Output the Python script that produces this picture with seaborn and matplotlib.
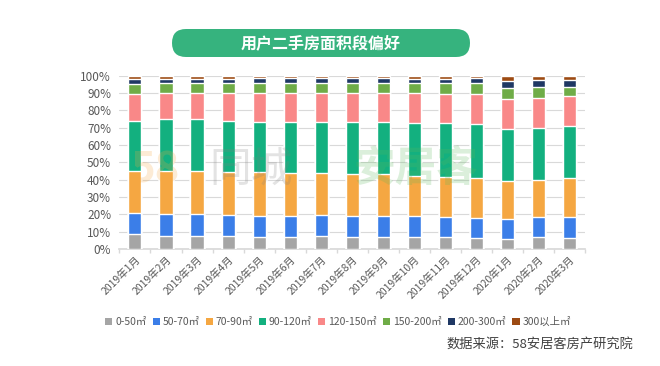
import numpy as np
import pandas as pd
import matplotlib
matplotlib.use("Agg")
import matplotlib.pyplot as plt
from matplotlib.patches import FancyBboxPatch, Patch
import seaborn as sns

sns.set_theme(style="white")
plt.rcParams['font.family'] = ['Noto Sans CJK SC', 'DejaVu Sans']

# 数据
months = ['2019年1月', '2019年2月', '2019年3月', '2019年4月', '2019年5月', '2019年6月',
          '2019年7月', '2019年8月', '2019年9月', '2019年10月', '2019年11月', '2019年12月',
          '2020年1月', '2020年2月', '2020年3月']
segments = ['0-50㎡', '50-70㎡', '70-90㎡', '90-120㎡', '120-150㎡', '150-200㎡', '200-300㎡', '300以上㎡']

s_0_50 = [8.5, 7.7, 7.7, 7.7, 7.1, 7.1, 7.7, 7.1, 7.1, 7.1, 7.1, 6.5, 5.9, 7.1, 6.5]
s_50_70 = [12.1, 12.3, 12.3, 11.9, 12.1, 12.1, 11.9, 12.1, 12.1, 11.7, 11.3, 11.4, 11.4, 11.1, 12.0]
s_70_90 = [24.5, 25.1, 25.1, 25.0, 25.0, 24.4, 24.3, 24.0, 23.8, 23.1, 23.3, 22.8, 21.9, 21.8, 22.5]
s_90_120 = [28.9, 29.6, 29.6, 29.4, 29.2, 29.8, 29.5, 30.2, 30.4, 30.9, 30.9, 31.5, 30.2, 30.0, 30.0]
s_120_150 = [15.3, 15.4, 15.4, 15.7, 16.3, 16.3, 16.3, 16.3, 16.3, 16.9, 16.7, 17.1, 17.2, 17.2, 17.0]
s_150_200 = [5.8, 5.4, 5.6, 5.8, 5.8, 5.8, 5.8, 5.8, 5.8, 5.8, 6.2, 6.2, 6.0, 6.0, 5.5]
s_200_300 = [2.9, 2.7, 2.5, 2.7, 3.1, 3.1, 3.1, 3.1, 3.1, 2.3, 2.3, 2.8, 4.5, 4.3, 4.0]
s_300_up = [2.0, 1.8, 1.8, 1.8, 1.4, 1.4, 1.4, 1.4, 1.4, 2.2, 2.2, 1.7, 2.9, 2.5, 2.5]

colors = ['#a5a5a5', '#3b7ee8', '#f5a742', '#13b07f', '#f98888', '#6fac47', '#1f3864', '#9c4a12']

series = [s_0_50, s_50_70, s_70_90, s_90_120, s_120_150, s_150_200, s_200_300, s_300_up]
df = pd.DataFrame(dict(zip(segments, series)), index=months)
df = df.div(df.sum(axis=1), axis=0)  # normaliser à 100%
cum = df.cumsum(axis=1)

fig = plt.figure(figsize=(6.6, 3.66), dpi=100)
ax = fig.add_axes([0.181, 0.3197, 0.705, 0.474])

# Barres empilées : on dessine les cumuls du plus haut au plus bas
for seg, col in reversed(list(zip(segments, colors))):
    sns.barplot(x=cum.index, y=cum[seg].values, color=col, width=0.42,
                saturation=1, ax=ax, zorder=3)

ax.set_ylim(0, 1)
ax.set_xlim(-0.5, len(months) - 0.5)
ax.set_yticks(np.arange(0, 1.01, 0.1))
ax.set_yticklabels([f'{int(v)}%' for v in np.arange(0, 101, 10)], fontsize=8.5, color='#595959')
ax.yaxis.grid(True, color='#d9d9d9', linewidth=0.8, zorder=0)
ax.set_axisbelow(True)
ax.set_xlabel('')
ax.set_ylabel('')
ax.set_xticks(range(len(months)))
ax.set_xticklabels(months, rotation=45, ha='right', rotation_mode='anchor',
                   fontsize=7.5, color='#595959')
ax.set_xticks(np.arange(-0.5, len(months), 1), minor=True)
ax.tick_params(axis='x', which='major', length=0, pad=4)
ax.tick_params(axis='x', which='minor', length=3, color='#d9d9d9', bottom=True)
ax.tick_params(axis='y', length=0, pad=6)
for side in ['top', 'right', 'left']:
    ax.spines[side].set_visible(False)
ax.spines['bottom'].set_color('#d9d9d9')

# Filigrane
fig.text(0.235, 0.535, '58', fontsize=30, color='#f5a742', alpha=0.22,
         ha='center', va='center', fontweight='bold', zorder=10)
fig.text(0.38, 0.535, '同城', fontsize=30, color='#808080', alpha=0.22,
         ha='center', va='center', zorder=10)
fig.text(0.63, 0.535, '安居客', fontsize=30, color='#5cb85c', alpha=0.22,
         ha='center', va='center', fontweight='bold', zorder=10)

# Titre dans une boîte arrondie verte
box = FancyBboxPatch((1.72, 3.09), 2.98, 0.28,
                     boxstyle='round,pad=0,rounding_size=0.14',
                     transform=fig.dpi_scale_trans, facecolor='#36b37e',
                     edgecolor='none')
fig.patches.append(box)
fig.text(3.21, 3.23, '用户二手房面积段偏好', transform=fig.dpi_scale_trans,
         ha='center', va='center', color='white', fontsize=11.5, fontweight='bold')

# Légende
handles = [Patch(facecolor=c, edgecolor='none') for c in colors]
fig.legend(handles, segments, loc='center', bbox_to_anchor=(0.512, 0.12), ncol=8,
           frameon=False, fontsize=7.5, handlelength=0.7, handleheight=0.7,
           handletextpad=0.25, columnspacing=0.6, labelcolor='#595959')

fig.text(0.96, 0.057, '数据来源：58安居客房产研究院', ha='right', va='center',
         fontsize=9.5, color='#404040')

fig.savefig('out.png', dpi=100)
plt.close(fig)
